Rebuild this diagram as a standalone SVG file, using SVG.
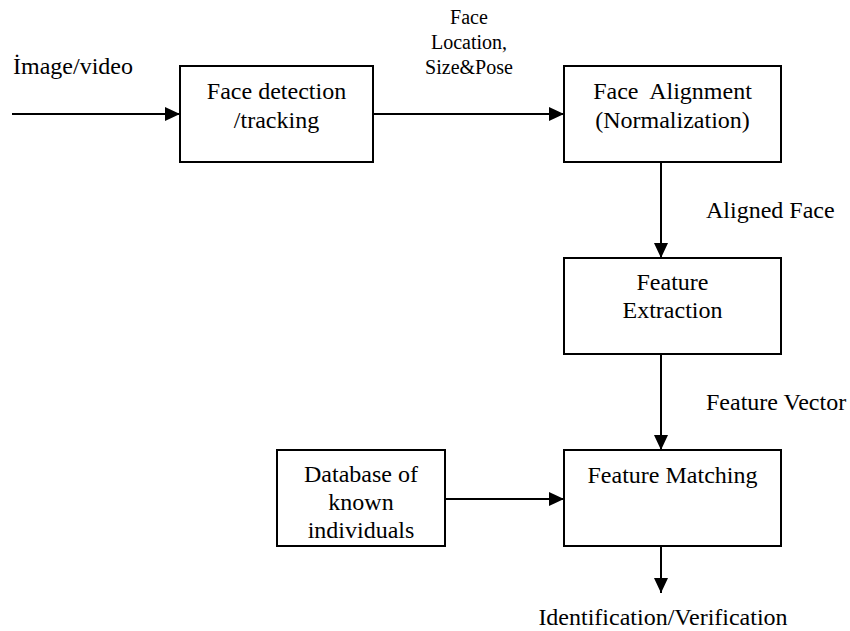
<svg xmlns="http://www.w3.org/2000/svg" width="850" height="631" viewBox="0 0 850 631" font-family="Liberation Serif, Times New Roman, serif">
<style>
.box{fill:#fff;stroke:#000;stroke-width:2}
text{font-family:"Liberation Serif","Times New Roman",serif;font-size:24px;fill:#000}
.c{text-anchor:middle}
.s{font-size:20px}
.ln{stroke:#000;stroke-width:2;fill:none}
</style>
<defs>
<marker id="ah" markerWidth="15" markerHeight="14" refX="15" refY="7" orient="auto" markerUnits="userSpaceOnUse">
<path d="M0,0 L15,7 L0,14 Z" fill="#000"/>
</marker>
</defs>
<g id="connectors">
<line class="ln" x1="12" y1="114" x2="180" y2="114" marker-end="url(#ah)"/>
<line class="ln" x1="373" y1="114" x2="564" y2="114" marker-end="url(#ah)"/>
<line class="ln" x1="661" y1="162" x2="661" y2="258" marker-end="url(#ah)"/>
<line class="ln" x1="661" y1="354" x2="661" y2="450" marker-end="url(#ah)"/>
<line class="ln" x1="445" y1="499" x2="564" y2="499" marker-end="url(#ah)"/>
<line class="ln" x1="661" y1="546" x2="661" y2="593" marker-end="url(#ah)"/>
</g>
<g id="labels">
<text x="13" y="74">İmage/video</text>
<text class="s c" x="469" y="24">Face</text>
<text class="s c" x="469" y="49">Location,</text>
<text class="s c" x="469" y="74">Size&amp;Pose</text>
<text x="706" y="218">Aligned Face</text>
<text x="706" y="410">Feature Vector</text>
<text class="c" x="663" y="625">Identification/Verification</text>
</g>
<g id="face-detection">
<rect class="box" x="180" y="66" width="193" height="96"/>
<text class="c" x="276.5" y="99">Face detection</text>
<text class="c" x="276.5" y="128">/tracking</text>
</g>
<g id="face-alignment">
<rect class="box" x="564" y="66" width="217" height="96"/>
<text class="c" x="672.5" y="99" xml:space="preserve">Face  Alignment</text>
<text class="c" x="672.5" y="128">(Normalization)</text>
</g>
<g id="feature-extraction">
<rect class="box" x="564" y="258" width="217" height="96"/>
<text class="c" x="672.5" y="290">Feature</text>
<text class="c" x="672.5" y="318">Extraction</text>
</g>
<g id="feature-matching">
<rect class="box" x="564" y="450" width="217" height="96"/>
<text class="c" x="672.5" y="483">Feature Matching</text>
</g>
<g id="database">
<rect class="box" x="277" y="450" width="168" height="96"/>
<text class="c" x="361" y="482">Database of</text>
<text class="c" x="361" y="510">known</text>
<text class="c" x="361" y="538">individuals</text>
</g>
</svg>
